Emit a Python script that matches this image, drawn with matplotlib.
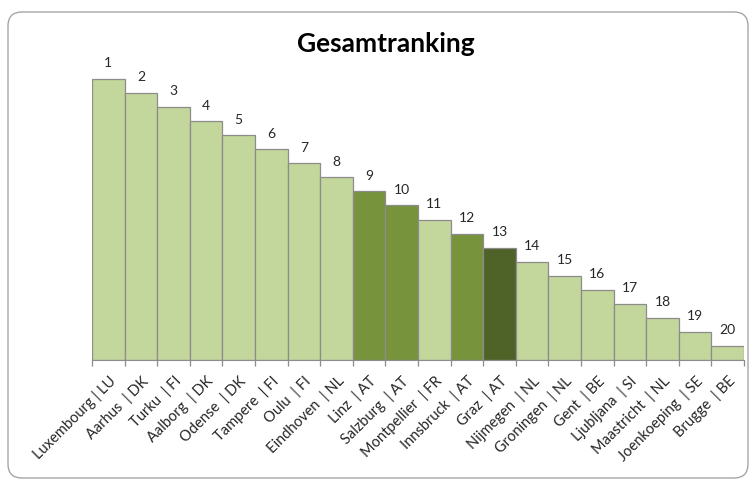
import numpy as np
import matplotlib
matplotlib.use("Agg")
import matplotlib.pyplot as plt
from matplotlib.patches import FancyBboxPatch
from matplotlib.transforms import IdentityTransform

# Daten (Rang 1 = hoechster Balken)
staedte = ["Luxembourg | LU", "Aarhus  | DK", "Turku  | FI", "Aalborg  | DK",
           "Odense  | DK", "Tampere  | FI", "Oulu  | FI", "Eindhoven  | NL",
           "Linz  | AT", "Salzburg  | AT", "Montpellier  | FR", "Innsbruck  | AT",
           "Graz  | AT", "Nijmegen  | NL", "Groningen  | NL", "Gent  | BE",
           "Ljubljana  | SI", "Maastricht  | NL", "Joenkoeping  | SE", "Brugge  | BE"]
punkte = [20, 19, 18, 17, 16, 15, 14, 13, 12, 11, 10, 9, 8, 7, 6, 5, 4, 3, 2, 1]
rang = list(range(1, 21))
gruppe = ["hell"] * 8 + ["AT", "AT", "hell", "AT", "Graz"] + ["hell"] * 7

farben = {"hell": "#c3d69b", "AT": "#77933c", "Graz": "#4f6228"}

plt.rcParams['font.family'] = ['Lato', 'DejaVu Sans']

fig = plt.figure(figsize=(7.51, 4.84), dpi=100)
ax = fig.add_axes([92 / 751, 1 - 360 / 484, 652 / 751, 309 / 484])

x = np.arange(len(staedte))
balken = ax.bar(x, punkte, width=1.0, color=[farben[g] for g in gruppe],
                edgecolor="#8c8c8c", linewidth=0.9)
ax.bar_label(balken, labels=[str(r) for r in rang], padding=7,
             fontsize=10, color="#262626")

ax.set_xlim(-0.5, len(staedte) - 0.5)
ax.set_ylim(0, 22)
ax.set_yticks([])
for s in ["top", "right", "left"]:
    ax.spines[s].set_visible(False)
ax.spines["bottom"].set_color("#8c8c8c")

ax.set_xticks(x)
ax.set_xticklabels(staedte, rotation=45, ha="right", va="top",
                   rotation_mode="anchor", fontsize=10.5, color="#262626")
ax.tick_params(axis="x", which="major", length=0, pad=10)
ax.set_xticks(np.arange(-0.5, len(staedte)), minor=True)
ax.tick_params(axis="x", which="minor", length=4.5, color="#8c8c8c", width=0.9)

fig.text(386 / 751, 1 - 44 / 484, "Gesamtranking", ha="center", va="center",
         fontsize=19, fontweight="bold", color="black")

rahmen = FancyBboxPatch((8, 6), 740, 466, boxstyle="round,pad=0,rounding_size=14",
                        transform=IdentityTransform(), facecolor="none",
                        edgecolor="#a6a6a6", linewidth=1.0)
fig.patches.append(rahmen)

fig.savefig("out.png", dpi=100)
